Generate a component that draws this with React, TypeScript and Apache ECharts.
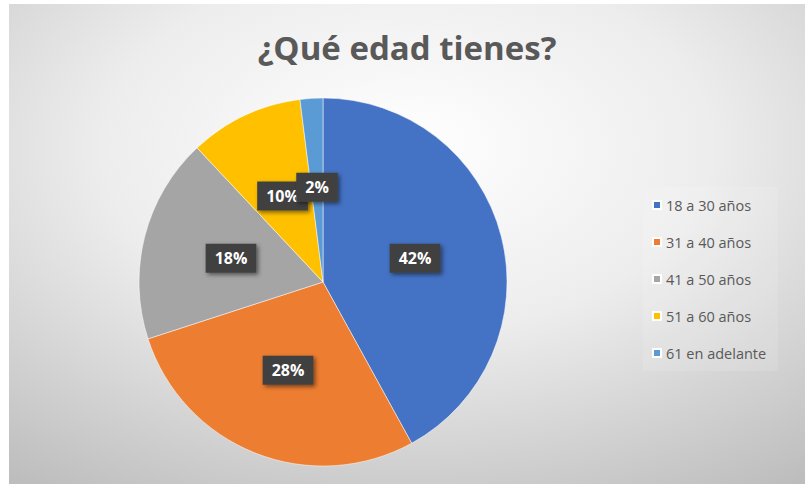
import React, { useEffect, useRef } from "react";
import * as echarts from "echarts";

const title = "¿Qué edad tienes?";
const categories = ["18 a 30 años", "31 a 40 años", "41 a 50 años", "51 a 60 años", "61 en adelante"];
const values = [42, 28, 18, 10, 2];
const colors = ["#4472C4", "#ED7D31", "#A5A5A5", "#FFC000", "#5B9BD5"];

export default function App() {
  const ref = useRef<HTMLDivElement>(null);
  useEffect(() => {
    if (!ref.current) return;
    const chart = echarts.init(ref.current, undefined, { renderer: "svg" });
    chart.setOption({
      animation: false,
      backgroundColor: {
        type: "radial",
        x: 0.5,
        y: 0.3,
        r: 0.85,
        colorStops: [
          { offset: 0, color: "#ffffff" },
          { offset: 0.45, color: "#ededed" },
          { offset: 1, color: "#bdbdbd" },
        ],
      },
      color: colors,
      title: {
        text: title,
        left: "center",
        top: 22,
        textStyle: {
          fontFamily: "Open Sans",
          fontWeight: "bold",
          fontSize: 33,
          color: "#595959",
        },
      },
      legend: {
        orient: "vertical",
        left: 634,
        top: 183,
        padding: [10, 12, 10, 9],
        backgroundColor: "rgba(255,255,255,0.12)",
        itemWidth: 8,
        itemHeight: 8,
        itemGap: 21,
        icon: "rect",
        data: categories,
        textStyle: {
          fontFamily: "Open Sans",
          fontSize: 14.5,
          color: "#595959",
          lineHeight: 16,
        },
      },
      series: [
        {
          type: "pie",
          center: [314, 278],
          radius: 184,
          startAngle: 90,
          clockwise: true,
          avoidLabelOverlap: false,
          minShowLabelAngle: 0,
          labelLayout: { hideOverlap: false },
          itemStyle: { borderColor: "#ffffff", borderWidth: 0.5 },
          label: {
            show: true,
            position: "inside",
            formatter: "{d}%",
            color: "#ffffff",
            fontFamily: "Open Sans",
            fontWeight: "bold",
            fontSize: 16,
            backgroundColor: "#404040",
            padding: [7, 9, 6, 9],
            shadowBlur: 4,
            shadowColor: "rgba(0,0,0,0.5)",
            shadowOffsetX: 2,
            shadowOffsetY: 2,
          },
          labelLine: { show: false },
          data: categories.map((name, i) => ({ name, value: values[i] })),
        },
      ],
    });
    return () => chart.dispose();
  }, []);
  return (
    <div style={{ position: "absolute", left: 0, top: 0, width: 805, height: 484, background: "#ffffff" }}>
      <div
        ref={ref}
        style={{ position: "absolute", left: 9, top: 4, width: 796, height: 480 }}
      />
    </div>
  );
}
